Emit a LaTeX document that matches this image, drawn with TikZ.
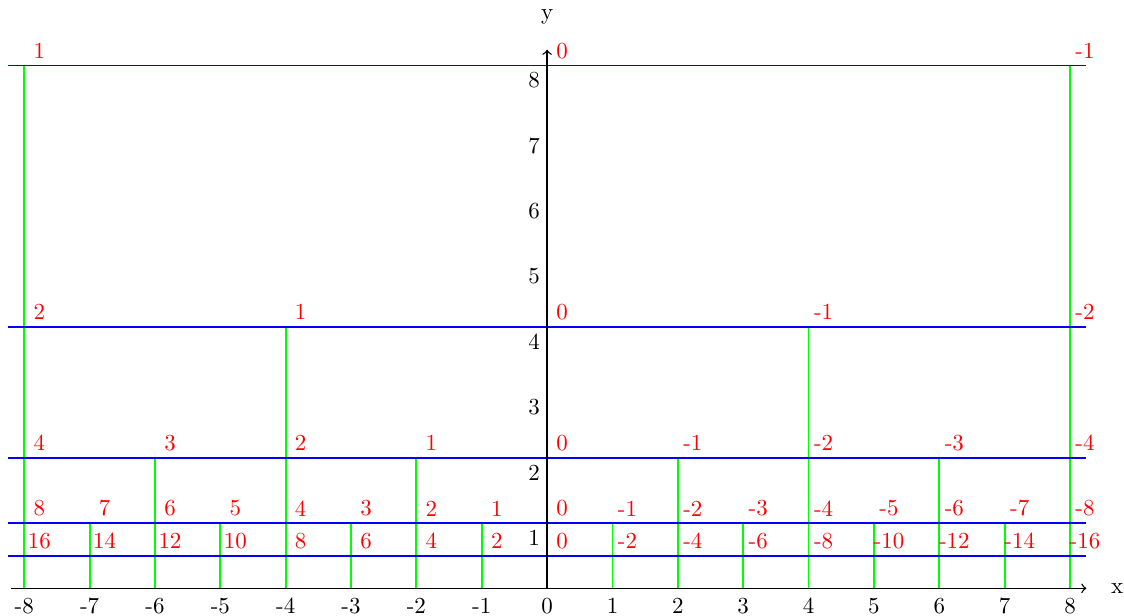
\documentclass[tikz,border=0pt]{standalone}
\begin{document}
\begin{tikzpicture}[x=1cm,y=1cm,
  hline/.style={blue, line width=0.8pt},
  vline/.style={green, line width=0.8pt},
  lab/.style={red, anchor=south, inner sep=2.8pt},
  ticklab/.style={black, inner sep=0pt}]
\useasboundingbox (-8.371,-0.4085) rectangle (8.826,9.001);
% green verticals
\foreach \x in {-7,-5,-3,-1,1,3,5,7} \draw[vline] (\x,0) -- (\x,1);
\foreach \x in {-6,-2,2,6} \draw[vline] (\x,0) -- (\x,2);
\foreach \x in {-4,4} \draw[vline] (\x,0) -- (\x,4);
\foreach \x in {-8,8} \draw[vline] (\x,0) -- (\x,8);
% blue horizontals
\foreach \h in {0.5,1,2,4,8} \draw[hline] (-8.25,\h) -- (8.25,\h);
% axes
\coordinate (xs) at (-8.2,0);
\coordinate (xe) at (8.25,0);
\coordinate (ys) at (0,0);
\coordinate (ye) at (0,8.24);
\draw[->, line width=0.6pt] (xs) -- (xe);
\draw[->, line width=0.6pt] (ys) -- (ye);
\node (xl) at (8.72,0) {x};
\node (yl) at (0,8.74) {y};
% tick labels
\foreach \x in {-8,...,8} \node[ticklab] (xt\x) at (\x,-0.27) {\x};
\foreach \y in {1,...,8} \node[ticklab] (yt\y) at (-0.2,\y-0.23) {\y};
% red labels
\foreach \x in {-8,...,8} {
  \pgfmathtruncatemacro\v{-2*(\x)}
  \node[lab] (ra\x) at (\x+0.23,0.5) {\v};
}
\foreach \x in {-8,...,8} {
  \pgfmathtruncatemacro\v{-1*(\x)}
  \node[lab] (rb\x) at (\x+0.23,1) {\v};
}
\foreach \x in {-8,-6,...,8} {
  \pgfmathtruncatemacro\v{-(\x)/2}
  \node[lab] (rc\x) at (\x+0.23,2) {\v};
}
\foreach \x in {-8,-4,...,8} {
  \pgfmathtruncatemacro\v{-(\x)/4}
  \node[lab] (rd\x) at (\x+0.23,4) {\v};
}
\foreach \x in {-8,0,8} {
  \pgfmathtruncatemacro\v{-(\x)/8}
  \node[lab] (re\x) at (\x+0.23,8) {\v};
}
\end{tikzpicture}
\end{document}
